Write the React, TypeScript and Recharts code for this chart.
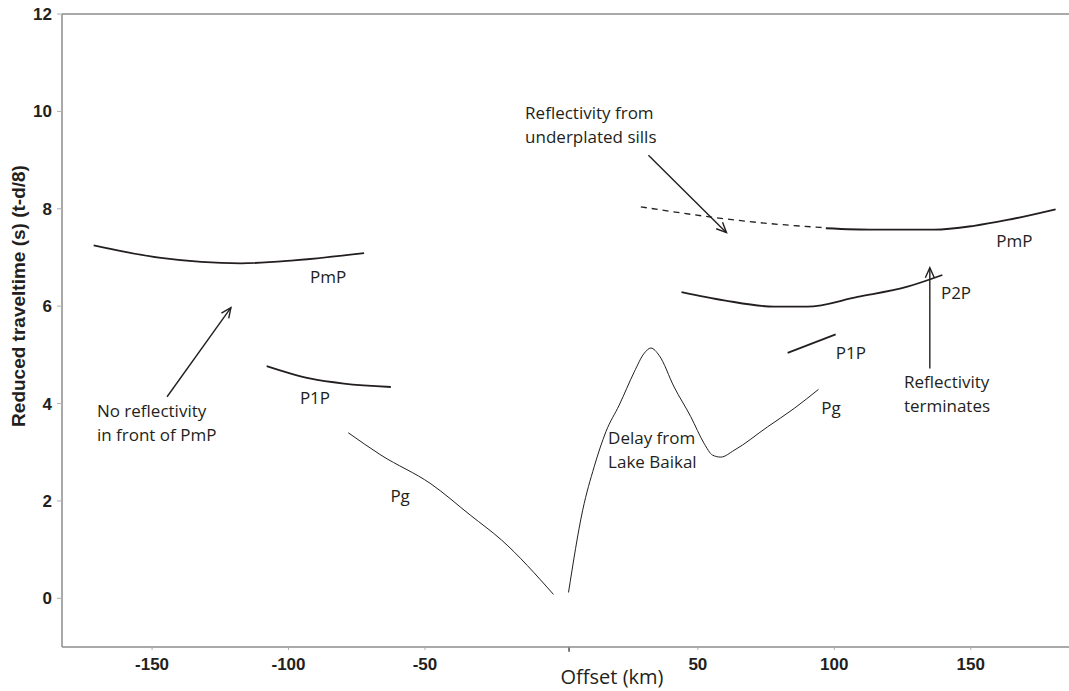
import React from "react";
import { LineChart, Line, XAxis, YAxis, ReferenceLine, ReferenceDot } from "recharts";

// traveltime picks, offset (km) vs reduced time (s)
const pmpWest = [
  { x: -171.4, y: 7.25 }, { x: -146.7, y: 6.99 }, { x: -117.4, y: 6.88 },
  { x: -98.0, y: 6.94 }, { x: -72.3, y: 7.09 },
];
const p1pWest = [
  { x: -108.0, y: 4.77 }, { x: -91.8, y: 4.51 }, { x: -79.7, y: 4.41 }, { x: -62.5, y: 4.34 },
];
const pgWest = [
  { x: -78.1, y: 3.4 }, { x: -66.1, y: 2.94 }, { x: -47.8, y: 2.35 }, { x: -33.2, y: 1.7 },
  { x: -22.0, y: 1.2 }, { x: -2.9, y: 0.08 },
];
const pgEast = [
  { x: 2.6, y: 0.12 }, { x: 7.8, y: 1.81 }, { x: 12.0, y: 2.7 }, { x: 16.3, y: 3.42 },
  { x: 21.2, y: 3.97 }, { x: 26.7, y: 4.65 }, { x: 30.3, y: 5.03 }, { x: 32.8, y: 5.14 },
  { x: 35.8, y: 4.99 }, { x: 41.3, y: 4.34 }, { x: 47.4, y: 3.73 }, { x: 52.3, y: 3.18 },
  { x: 55.4, y: 2.94 }, { x: 58.4, y: 2.9 }, { x: 63.3, y: 3.04 }, { x: 75.5, y: 3.52 },
  { x: 85.3, y: 3.9 }, { x: 94.2, y: 4.29 },
];
const p1pEast = [{ x: 82.9, y: 5.04 }, { x: 100.5, y: 5.42 }];
const p2pEast = [
  { x: 44.0, y: 6.29 }, { x: 59.6, y: 6.12 }, { x: 77.9, y: 5.99 }, { x: 90.0, y: 5.99 },
  { x: 108.5, y: 6.19 }, { x: 126.8, y: 6.4 }, { x: 139.6, y: 6.64 },
];
const pmpEast = [
  { x: 96.9, y: 7.6 }, { x: 114.6, y: 7.57 }, { x: 136.6, y: 7.57 },
  { x: 151.2, y: 7.65 }, { x: 163.4, y: 7.77 }, { x: 181.1, y: 7.99 },
];
const pmpDashed = [
  { x: 29.1, y: 8.04 }, { x: 54.8, y: 7.83 }, { x: 75.5, y: 7.7 }, { x: 96.9, y: 7.61 },
];

const xTicks = [-150, -100, -50, 50, 100, 150];
const yTicks = [0, 2, 4, 6, 8, 10, 12];

// arrows: [tail, head]
const arrows = [
  [{ x: -144.5, y: 4.14 }, { x: -121.1, y: 5.97 }],
  [{ x: 31.9, y: 9.1 }, { x: 60.5, y: 7.51 }],
  [{ x: 135.0, y: 4.72 }, { x: 135.0, y: 6.79 }],
];

// phase labels and notes
const notes = [
  { x: -170.2, y: 3.84, lines: ["No reflectivity", "in front of PmP"], anchor: "start" },
  { x: -85.5, y: 6.6, lines: ["PmP"], anchor: "middle" },
  { x: -90.3, y: 4.11, lines: ["P1P"], anchor: "middle" },
  { x: -59.1, y: 2.1, lines: ["Pg"], anchor: "middle" },
  { x: 17.1, y: 3.29, lines: ["Delay from", "Lake Baikal"], anchor: "start" },
  { x: 98.8, y: 3.9, lines: ["Pg"], anchor: "middle" },
  { x: 106.1, y: 5.03, lines: ["P1P"], anchor: "middle" },
  { x: 144.6, y: 6.27, lines: ["P2P"], anchor: "middle" },
  { x: 125.5, y: 4.44, lines: ["Reflectivity", "terminates"], anchor: "start" },
  { x: 166.0, y: 7.34, lines: ["PmP"], anchor: "middle" },
  { x: -13.3, y: 9.97, lines: ["Reflectivity from", "underplated sills"], anchor: "start" },
];

const ink = "#231f20";
const noteFont = "'Open Sans', 'Noto Sans', sans-serif";

const ArrowShape = (props: any) => {
  const { x1, y1, x2, y2 } = props;
  const a = Math.atan2(y2 - y1, x2 - x1);
  const len = 11;
  const spread = 0.42;
  const h1x = x2 - len * Math.cos(a - spread);
  const h1y = y2 - len * Math.sin(a - spread);
  const h2x = x2 - len * Math.cos(a + spread);
  const h2y = y2 - len * Math.sin(a + spread);
  return (
    <g stroke={ink} strokeWidth={1.4} fill="none">
      <line x1={x1} y1={y1} x2={x2} y2={y2} />
      <polyline points={`${h1x},${h1y} ${x2},${y2} ${h2x},${h2y}`} />
    </g>
  );
};

const noteShape = (lines: string[], anchor: string) => (props: any) => {
  const { cx, cy } = props;
  return (
    <text x={cx} y={cy} textAnchor={anchor} fill={ink} fontSize={17} fontFamily={noteFont}>
      {lines.map((l, i) => (
        <tspan key={i} x={cx} dy={i === 0 ? "0.35em" : 24}>{l}</tspan>
      ))}
    </text>
  );
};

const App: React.FC = () => {
  const tickStyle = { fontFamily: "'Liberation Sans', Arial, sans-serif", fontWeight: 700, fontSize: 17, fill: ink };
  return (
    <div style={{ position: "absolute", left: 0, top: 0, width: 1069, height: 691, background: "#fff" }}>
      <LineChart width={1069} height={691} margin={{ top: 14, right: 0, bottom: 0, left: 0 }}>
        <XAxis
          type="number"
          dataKey="x"
          domain={[-183, 186]}
          ticks={xTicks}
          allowDataOverflow
          height={44}
          stroke="#8c8c8c"
          strokeWidth={1.5}
          tickSize={3}
          tickMargin={8}
          tick={tickStyle}
          tickLine={{ stroke: "#b0b0b0", strokeWidth: 1 }}
          label={(p: any) => (
            <text x={612} y={684} textAnchor="middle" fill={ink} fontSize={20} fontFamily={noteFont}>
              Offset (km)
            </text>
          )}
        />
        <YAxis
          type="number"
          dataKey="y"
          domain={[-1, 12]}
          ticks={yTicks}
          allowDataOverflow
          width={62}
          stroke="#8c8c8c"
          strokeWidth={1.5}
          tickSize={5}
          tickMargin={5}
          tick={tickStyle}
          tickLine={{ stroke: "#b0b0b0", strokeWidth: 1 }}
          label={(p: any) => (
            <text
              x={18}
              y={296}
              transform="rotate(-90 18 296)"
              textAnchor="middle"
              dy="0.35em"
              fill={ink}
              fontSize={19}
              fontWeight={700}
              fontFamily="'Liberation Sans', Arial, sans-serif"
            >
              Reduced traveltime (s) (t-d/8)
            </text>
          )}
        />
        <ReferenceLine y={12} stroke="#8c8c8c" strokeWidth={1.5} />
        <ReferenceLine
          segment={[{ x: 2.8, y: -1 }, { x: 2.8, y: -1.1 }]}
          ifOverflow="visible"
          stroke={ink}
          strokeWidth={1.2}
        />

        <Line data={pmpWest} dataKey="y" type="monotone" stroke={ink} strokeWidth={1.8} dot={false} isAnimationActive={false} />
        <Line data={p1pWest} dataKey="y" type="monotone" stroke={ink} strokeWidth={1.8} dot={false} isAnimationActive={false} />
        <Line data={pgWest} dataKey="y" type="monotone" stroke={ink} strokeWidth={1} dot={false} isAnimationActive={false} />
        <Line data={pgEast} dataKey="y" type="monotone" stroke={ink} strokeWidth={1} dot={false} isAnimationActive={false} />
        <Line data={p1pEast} dataKey="y" type="linear" stroke={ink} strokeWidth={1.8} dot={false} isAnimationActive={false} />
        <Line data={p2pEast} dataKey="y" type="monotone" stroke={ink} strokeWidth={1.8} dot={false} isAnimationActive={false} />
        <Line data={pmpEast} dataKey="y" type="monotone" stroke={ink} strokeWidth={1.8} dot={false} isAnimationActive={false} />
        <Line data={pmpDashed} dataKey="y" type="monotone" stroke={ink} strokeWidth={1.3} strokeDasharray="6 5" dot={false} isAnimationActive={false} />

        {arrows.map((seg, i) => (
          <ReferenceLine key={`arr-${i}`} segment={seg} ifOverflow="visible" shape={ArrowShape} />
        ))}
        {notes.map((n, i) => (
          <ReferenceDot key={`note-${i}`} x={n.x} y={n.y} r={0} ifOverflow="visible" shape={noteShape(n.lines, n.anchor)} />
        ))}
      </LineChart>
    </div>
  );
};

export default App;
